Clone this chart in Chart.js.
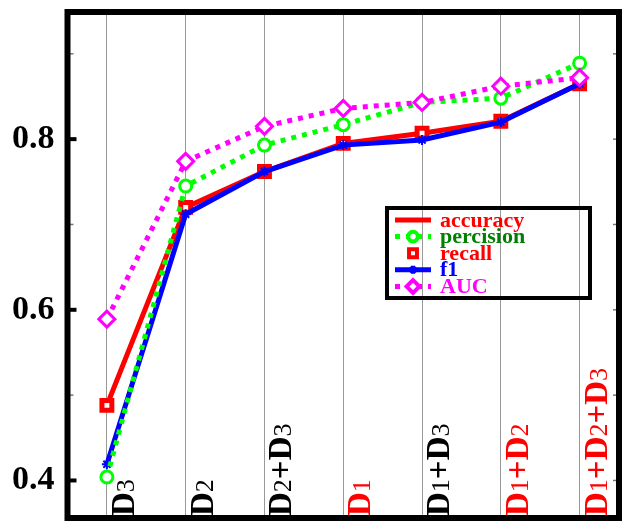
<!DOCTYPE html>
<html>
<head>
<meta charset="utf-8">
<script src="https://cdn.jsdelivr.net/npm/chart.js@4/dist/chart.umd.min.js"></script>
<style>
  html, body { margin: 0; padding: 0; background: #fff; }
  #wrap { width: 631px; height: 530px; }
</style>
</head>
<body>
<div id="wrap"><canvas id="displayChart" width="631" height="530"></canvas></div>
<script>
const categories = ['D3', 'D2', 'D2+D3', 'D1', 'D1+D3', 'D1+D2', 'D1+D2+D3'];
const categoryColors = ['#000', '#000', '#000', '#ff0000', '#000', '#ff0000', '#ff0000'];

const accuracy = [0.488, 0.720, 0.762, 0.795, 0.807, 0.821, 0.865];
const percision = [0.404, 0.745, 0.793, 0.817, 0.843, 0.848, 0.889];
const recall = [0.488, 0.720, 0.762, 0.795, 0.807, 0.821, 0.865];
const f1 = [0.419, 0.712, 0.762, 0.793, 0.799, 0.820, 0.865];
const auc = [0.589, 0.774, 0.815, 0.836, 0.843, 0.862, 0.872];

const yTicks = [0.4, 0.5, 0.6, 0.7, 0.8, 0.9];
const yLabelTicks = [0.4, 0.6, 0.8];
const legendTextColors = ['#ff0000', '#008000', '#ff0000', '#0000ff', '#ff00ff'];

const serif = '"Liberation Serif", "Times New Roman", serif';
const isLabelTick = v => yLabelTicks.some(t => Math.abs(t - v) < 1e-6);

// letters big and bold, digits smaller and lighter, like the original figure
function drawCategory(ctx, text) {
    let pos = 0;
    for (const ch of text) {
        ctx.font = /[0-9]/.test(ch) ? 'normal 26px ' + serif : 'bold 33px ' + serif;
        ctx.fillText(ch, pos, 0);
        pos += ctx.measureText(ch).width;
    }
}

const matlabLook = {
    id: 'matlabLook',
    beforeDatasetsDraw(chart) {
        const { ctx, chartArea: a, scales: { x } } = chart;
        ctx.save();
        ctx.textAlign = 'left';
        ctx.textBaseline = 'alphabetic';
        categories.forEach((c, i) => {
            ctx.save();
            ctx.translate(x.getPixelForValue(i) + 27, a.bottom - 2);
            ctx.rotate(-Math.PI / 2);
            ctx.fillStyle = categoryColors[i];
            drawCategory(ctx, c);
            ctx.restore();
        });
        ctx.restore();
    },
    afterDraw(chart) {
        const { ctx, chartArea: a, scales: { y } } = chart;
        ctx.save();

        // inward ticks on both sides
        for (const v of yTicks) {
            const py = y.getPixelForValue(v);
            const major = isLabelTick(v);
            ctx.beginPath();
            ctx.lineWidth = major ? 4 : 1.5;
            ctx.strokeStyle = major ? '#000' : '#777';
            ctx.moveTo(a.left, py);
            ctx.lineTo(a.left + (major ? 9 : 6), py);
            ctx.stroke();
            ctx.beginPath();
            ctx.lineWidth = 1.5;
            ctx.strokeStyle = '#777';
            ctx.moveTo(a.right, py);
            ctx.lineTo(a.right - 6, py);
            ctx.stroke();
        }

        // thick frame
        ctx.lineWidth = 6;
        ctx.strokeStyle = '#000';
        ctx.strokeRect(a.left, a.top, a.right - a.left, a.bottom - a.top);

        // legend box
        const lx = 387, ly = 208, lw = 203, lh = 90;
        ctx.lineWidth = 4;
        ctx.strokeRect(lx, ly, lw, lh);
        const rowH = 16.6;
        chart.data.datasets.forEach((ds, i) => {
            const ry = ly + 12 + i * rowH;
            if (ds.showLine !== false) {
                ctx.save();
                ctx.beginPath();
                ctx.lineWidth = 5;
                ctx.strokeStyle = ds.borderColor;
                ctx.setLineDash(ds.borderDash || []);
                ctx.moveTo(395, ry);
                ctx.lineTo(431, ry);
                ctx.stroke();
                ctx.restore();
            }
            if (ds.pointRadius > 0) {
                ctx.save();
                ctx.fillStyle = ds.pointBackgroundColor;
                ctx.strokeStyle = ds.borderColor;
                Chart.helpers.drawPoint(ctx, {
                    pointStyle: ds.pointStyle,
                    radius: ds.pointRadius * 0.8,
                    borderWidth: ds.pointBorderWidth,
                    rotation: 0
                }, 413, ry);
                ctx.restore();
            }
            ctx.font = 'bold 22px ' + serif;
            ctx.textAlign = 'left';
            ctx.textBaseline = 'middle';
            ctx.fillStyle = legendTextColors[i];
            ctx.fillText(ds.label, 440, ry + 1);
        });
        ctx.restore();
    }
};

const ctx = document.getElementById('displayChart').getContext('2d');
new Chart(ctx, {
    type: 'line',
    data: {
        labels: categories,
        datasets: [{
            label: 'accuracy',
            data: accuracy,
            borderColor: '#ff0000',
            borderWidth: 5,
            pointRadius: 0,
            order: 5
        }, {
            label: 'percision',
            data: percision,
            borderColor: '#00ff00',
            borderWidth: 5,
            borderDash: [5, 6],
            pointStyle: 'circle',
            pointRadius: 6,
            pointBorderWidth: 3,
            pointBackgroundColor: '#fff',
            order: 2
        }, {
            label: 'recall',
            data: recall,
            showLine: false,
            borderColor: '#ff0000',
            pointStyle: 'rect',
            pointRadius: 7,
            pointBorderWidth: 5,
            pointBackgroundColor: '#fff',
            order: 4
        }, {
            label: 'f1',
            data: f1,
            borderColor: '#0000ff',
            borderWidth: 5,
            pointStyle: 'star',
            pointRadius: 5,
            pointBorderWidth: 2,
            pointBackgroundColor: '#0000ff',
            order: 3
        }, {
            label: 'AUC',
            data: auc,
            borderColor: '#ff00ff',
            borderWidth: 5,
            borderDash: [5, 6],
            pointStyle: 'rectRot',
            pointRadius: 8,
            pointBorderWidth: 3,
            pointBackgroundColor: '#fff',
            order: 1
        }]
    },
    options: {
        responsive: false,
        animation: false,
        layout: { padding: { top: 8, right: 6, bottom: 9, left: 0 } },
        plugins: { legend: { display: false }, tooltip: { enabled: false } },
        elements: { line: { tension: 0, borderCapStyle: 'butt' } },
        scales: {
            x: {
                offset: true,
                ticks: { display: false },
                border: { display: false },
                grid: { offset: false, drawTicks: false, color: '#999', lineWidth: 1 },
                afterFit: s => { s.height = 0; s.paddingLeft = 0; s.paddingRight = 0; }
            },
            y: {
                min: 0.356,
                max: 0.949,
                afterBuildTicks: s => { s.ticks = yTicks.map(v => ({ value: v })); },
                afterFit: s => { s.width = 67.5; s.paddingTop = 0; s.paddingBottom = 0; },
                border: { display: false },
                grid: { display: false },
                ticks: {
                    padding: 5,
                    color: '#000',
                    font: { family: serif, size: 34, weight: 'bold' },
                    callback: v => isLabelTick(v) ? v.toFixed(1) : ''
                }
            }
        }
    },
    plugins: [matlabLook]
});
</script>
</body>
</html>
